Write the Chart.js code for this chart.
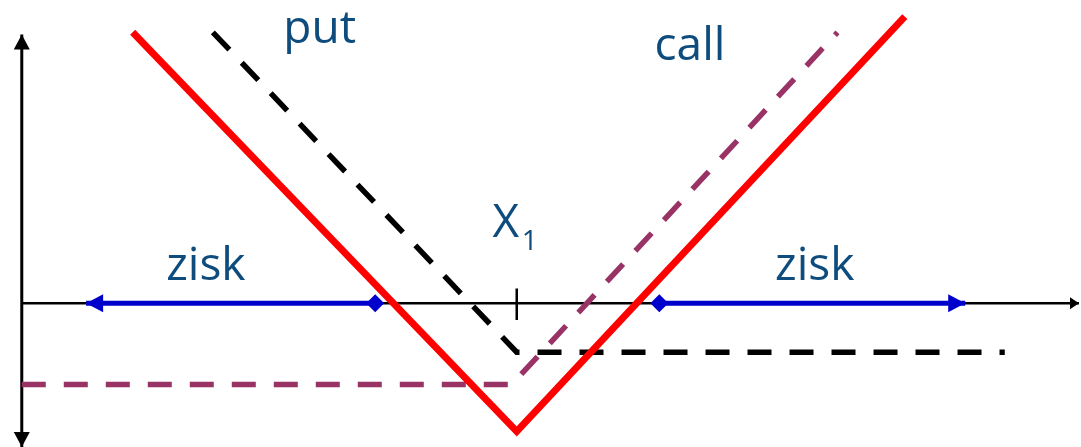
<!DOCTYPE html>
<html>
<head>
<meta charset="utf-8">
<script src="https://cdn.jsdelivr.net/npm/chart.js@4"></script>
<style>
	html, body { margin: 0; padding: 0; background: #fff; }
	#wrap { width: 1081px; height: 447px; position: relative; }
</style>
</head>
<body>
<div id="wrap"><canvas id="chartContainer"></canvas></div>
<script>
// strike X1 = 50, payoff units on y
var strike = 50;

var straddleX = [11.2, 50, 89.2];
var straddleY = [26.0, -12.3, 27.5];

var putX = [19.3, 50, 99.3];
var putY = [26.0, -4.7, -4.7];

var callX = [0, 49.5, 82.4];
var callY = [-7.8, -7.8, 26.0];

var ziskLeftX = [35.7, 6.5];
var ziskRightX = [64.4, 95.3];

var axisX = [0, 106.8];
var axisY = [25.8, -13.8];
var tickY = [1.4, -1.6];

var textColor = "#0e4c7e";

function pts(xs, ys) {
	return xs.map((x, i) => ({ x: x, y: ys[i] }));
}

// arrowheads on the chosen dataset ends + the text labels
const extras = {
	id: "extras",
	afterDatasetsDraw(chart) {
		const ctx = chart.ctx;
		const sx = chart.scales.x;
		const sy = chart.scales.y;

		chart.data.datasets.forEach((ds, i) => {
			if (!ds.arrows) return;
			const pts = chart.getDatasetMeta(i).data;
			ds.arrows.forEach((end) => {
				const tip = end === "end" ? pts[pts.length - 1] : pts[0];
				const prev = end === "end" ? pts[pts.length - 2] : pts[1];
				const a = Math.atan2(tip.y - prev.y, tip.x - prev.x);
				const len = ds.arrowLen, half = ds.arrowHalf;
				ctx.save();
				ctx.fillStyle = ds.borderColor;
				ctx.beginPath();
				ctx.moveTo(tip.x, tip.y);
				ctx.lineTo(tip.x - len * Math.cos(a) + half * Math.sin(a), tip.y - len * Math.sin(a) - half * Math.cos(a));
				ctx.lineTo(tip.x - len * Math.cos(a) - half * Math.sin(a), tip.y - len * Math.sin(a) + half * Math.cos(a));
				ctx.closePath();
				ctx.fill();
				ctx.restore();
			});
		});

		ctx.save();
		ctx.fillStyle = textColor;
		ctx.textAlign = "center";
		ctx.textBaseline = "alphabetic";
		ctx.font = "46px 'Open Sans'";
		const txt = [
			["put", 30.1, 25.0],
			["call", 67.5, 23.3],
			["zisk", 18.6, 2.2],
			["zisk", 80.1, 2.2],
		];
		txt.forEach((t) => ctx.fillText(t[0], sx.getPixelForValue(t[1]), sy.getPixelForValue(t[2])));
		const xPx = sx.getPixelForValue(strike - 1.1);
		const yPx = sy.getPixelForValue(6.4);
		ctx.fillText("X", xPx, yPx);
		ctx.font = "28px 'Open Sans'";
		ctx.textAlign = "left";
		ctx.fillText("1", xPx + 16, yPx + 13);
		ctx.restore();
	},
};

const lineDefaults = { showLine: true, pointRadius: 0, fill: false, tension: 0, borderCapStyle: "butt", borderJoinStyle: "miter" };

new Chart(document.getElementById("chartContainer"), {
	type: "scatter",
	data: {
		datasets: [
			{ ...lineDefaults, label: "straddle", data: pts(straddleX, straddleY), borderColor: "#ff0000", borderWidth: 7, order: 1 },
			{
				...lineDefaults,
				label: "zisk L",
				data: pts(ziskLeftX, [0, 0]),
				borderColor: "#0000cc",
				borderWidth: 5,
				pointRadius: [9, 0],
				pointStyle: "rectRot",
				pointBackgroundColor: "#0000cc",
				pointBorderWidth: 0,
				arrows: ["end"],
				arrowLen: 17,
				arrowHalf: 9,
				order: 2,
			},
			{
				...lineDefaults,
				label: "zisk R",
				data: pts(ziskRightX, [0, 0]),
				borderColor: "#0000cc",
				borderWidth: 5,
				pointRadius: [9, 0],
				pointStyle: "rectRot",
				pointBackgroundColor: "#0000cc",
				pointBorderWidth: 0,
				arrows: ["end"],
				arrowLen: 17,
				arrowHalf: 9,
				order: 2,
			},
			{ ...lineDefaults, label: "put", data: pts(putX, putY), borderColor: "#000000", borderWidth: 5.5, borderDash: [24, 18], order: 3 },
			{ ...lineDefaults, label: "call", data: pts(callX, callY), borderColor: "#993366", borderWidth: 5.5, borderDash: [24, 18], order: 3 },
			{ ...lineDefaults, label: "osa x", data: pts(axisX, [0, 0]), borderColor: "#000000", borderWidth: 2.5, arrows: ["end"], arrowLen: 9, arrowHalf: 6, order: 5 },
			{ ...lineDefaults, label: "osa y", data: pts([0, 0], axisY), borderColor: "#000000", borderWidth: 3, arrows: ["start", "end"], arrowLen: 15, arrowHalf: 8, order: 5 },
			{ ...lineDefaults, label: "X1", data: pts([strike, strike], tickY), borderColor: "#000000", borderWidth: 2.5, order: 5 },
		],
	},
	options: {
		responsive: true,
		maintainAspectRatio: false,
		animation: false,
		layout: { padding: 0, autoPadding: false },
		plugins: { legend: { display: false }, tooltip: { enabled: false }, title: { display: false } },
		scales: {
			x: { type: "linear", min: -2.2, max: 107, display: false },
			y: { type: "linear", min: -13.8, max: 29.1, display: false },
		},
	},
	plugins: [extras],
});
</script>
</body>
</html>
